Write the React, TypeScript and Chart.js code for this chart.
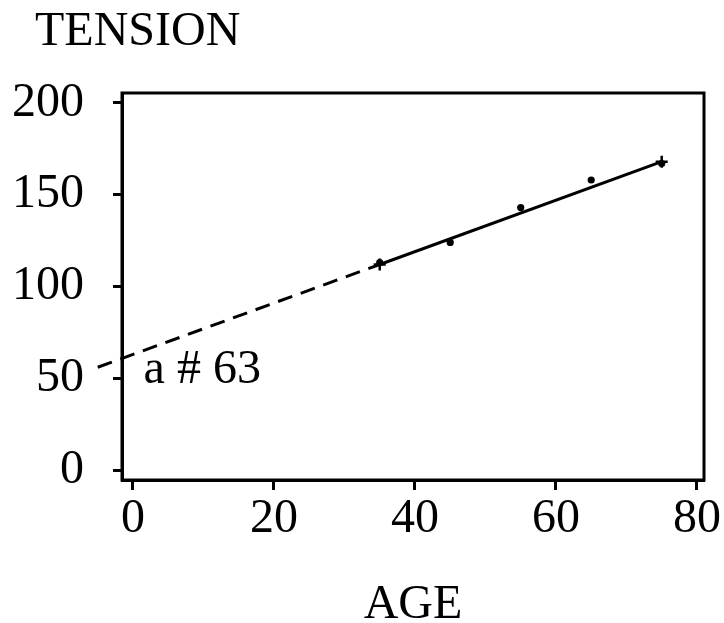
import React, { useEffect, useRef } from "react";
import { Chart, registerables } from "chart.js";

Chart.register(...registerables);

const ages = [35, 45, 55, 65, 75];
const tension = [113, 124, 143, 158, 167];
const fitX = [35, 75];
const fitY = [112, 168];
const extX = [-5, 35];
const extY = [56, 112];
const xTicks = [0, 20, 40, 60, 80];
const yTicks = [0, 50, 100, 150, 200];
const yTitle = "TENSION";
const xTitle = "AGE";
const annotationText = "a # 63";
const annotationAt = [1.5, 47.5];

const FONT = "'Liberation Serif', 'Times New Roman', serif";

export default function App() {
  const ref = useRef<HTMLCanvasElement | null>(null);
  useEffect(() => {
    if (!ref.current) return;
    const framePlugin = {
      id: "frameAndText",
      afterDraw(chart: any) {
        const { ctx, chartArea, scales } = chart;
        ctx.save();
        ctx.strokeStyle = "#000";
        ctx.lineWidth = 3;
        ctx.strokeRect(chartArea.left, chartArea.top, chartArea.right - chartArea.left, chartArea.bottom - chartArea.top);
        ctx.fillStyle = "#000";
        ctx.font = `48px ${FONT}`;
        ctx.textBaseline = "alphabetic";
        ctx.textAlign = "left";
        ctx.fillText(yTitle, 35, 45);
        ctx.fillText(
          annotationText,
          scales.x.getPixelForValue(annotationAt[0]),
          scales.y.getPixelForValue(annotationAt[1])
        );
        ctx.restore();
      },
    };
    const chart = new Chart(ref.current, {
      type: "scatter",
      data: {
        datasets: [
          {
            data: ages.map((a, i) => ({ x: a, y: tension[i] })),
            showLine: false,
            pointRadius: 3.6,
            pointBackgroundColor: "#000",
            pointBorderColor: "#000",
            pointBorderWidth: 0,
          },
          {
            data: fitX.map((a, i) => ({ x: a, y: fitY[i] })),
            showLine: true,
            borderColor: "#000",
            borderWidth: 3,
            pointStyle: "cross",
            pointRadius: 6,
            pointBorderColor: "#000",
            pointBorderWidth: 2.5,
          },
          {
            data: extX.map((a, i) => ({ x: a, y: extY[i] })),
            showLine: true,
            borderColor: "#000",
            borderWidth: 3,
            borderDash: [15, 9],
            pointRadius: 0,
            clip: false as any,
          },
        ],
      },
      options: {
        animation: false,
        responsive: false,
        maintainAspectRatio: false,
        layout: { padding: { top: 93, right: 20, left: 0, bottom: 0 } },
        plugins: { legend: { display: false }, tooltip: { enabled: false }, title: { display: false } },
        scales: {
          x: {
            type: "linear",
            min: -1.56,
            max: 81,
            afterBuildTicks: (s: any) => {
              s.ticks = xTicks.map((v) => ({ value: v }));
            },
            afterFit: (s: any) => {
              s.height = 143;
            },
            grid: {
              drawOnChartArea: false,
              drawTicks: true,
              tickLength: 10,
              tickColor: "#000",
              tickWidth: 3,
            },
            border: { display: true, color: "#000", width: 3 },
            ticks: {
              color: "#000",
              font: { family: FONT, size: 48 },
              padding: 1,
              maxRotation: 0,
              autoSkip: false,
            },
            title: {
              display: true,
              text: xTitle,
              color: "#000",
              font: { family: FONT, size: 48, lineHeight: 0.75 },
              padding: 0,
            },
          },
          y: {
            type: "linear",
            min: -5.4,
            max: 205.4,
            afterBuildTicks: (s: any) => {
              s.ticks = yTicks.map((v) => ({ value: v }));
            },
            afterFit: (s: any) => {
              s.width = 122;
            },
            grid: {
              drawOnChartArea: false,
              drawTicks: true,
              tickLength: 9,
              tickColor: "#000",
              tickWidth: 3,
            },
            border: { display: true, color: "#000", width: 3 },
            ticks: {
              color: "#000",
              font: { family: FONT, size: 48 },
              padding: 29,
              autoSkip: false,
            },
          },
        },
      },
      plugins: [framePlugin],
    });
    return () => chart.destroy();
  }, []);
  return (
    <div style={{ position: "absolute", left: 0, top: 0, width: 724, height: 623, background: "#fff" }}>
      <canvas ref={ref} width={724} height={623} style={{ width: 724, height: 623, display: "block" }} />
    </div>
  );
}
